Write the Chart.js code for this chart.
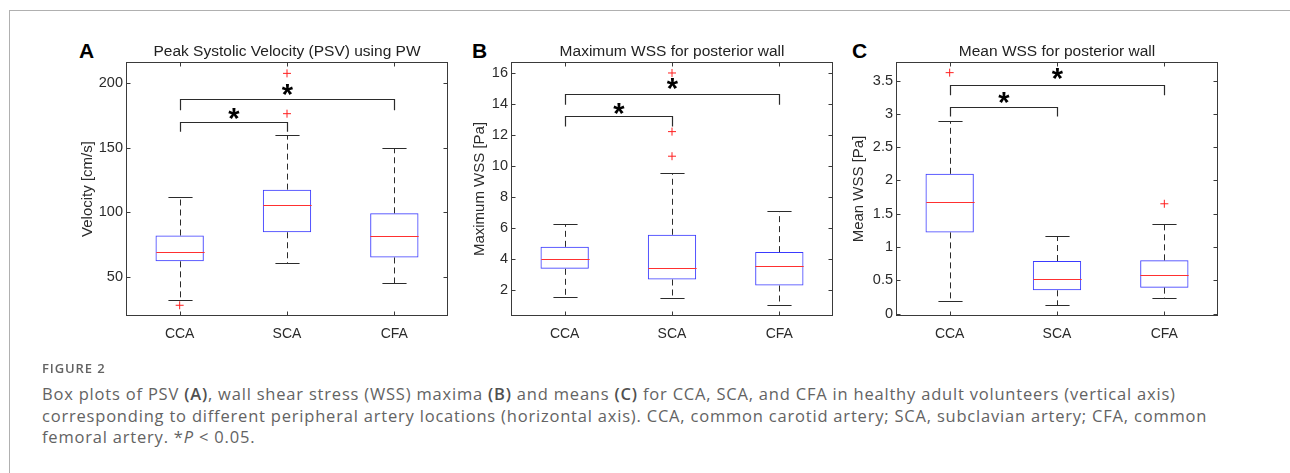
<!DOCTYPE html>
<html>
<head>
<meta charset="utf-8">
<script src="https://cdn.jsdelivr.net/npm/chart.js@4/dist/chart.umd.min.js"></script>
<style>
  html, body { margin: 0; padding: 0; background: #fff; }
  body { width: 1290px; height: 473px; position: relative; overflow: hidden; }
  .frame { position: absolute; left: 9px; top: 10px; right: -2px; bottom: -2px;
           border-top: 1.5px solid #b0b0b0; border-left: 1.5px solid #b0b0b0; }
  .panel { position: absolute; top: 30px; width: 400px; height: 330px; }
  .letter { position: absolute; top: 40px; font: bold 21px/21px "Liberation Sans", Arial, sans-serif; color: #000; }
  .caption { position: absolute; left: 42px; font-family: "Open Sans", sans-serif; color: #636363; }
  .fig { top: 359px; font-size: 13px; font-weight: 600; letter-spacing: 0.9px; }
  .text { top: 383px; font-size: 16.5px; line-height: 21.5px; letter-spacing: 0.8px; white-space: nowrap; }
  .text b { font-weight: 600; color: #505050; }
</style>
</head>
<body>
<div class="frame"></div>

<div class="letter" style="left:79px">A</div>
<div class="letter" style="left:472px">B</div>
<div class="letter" style="left:852px">C</div>

<div class="panel" style="left:60px"><canvas id="chartA"></canvas></div>
<div class="panel" style="left:445px"><canvas id="chartB"></canvas></div>
<div class="panel" style="left:830px"><canvas id="chartC"></canvas></div>

<div class="caption fig">FIGURE 2</div>
<div class="caption text">Box plots of PSV <b>(A)</b>, wall shear stress (WSS) maxima <b>(B)</b> and means <b>(C)</b> for CCA, SCA, and CFA in healthy adult volunteers (vertical axis)<br>corresponding to different peripheral artery locations (horizontal axis). CCA, common carotid artery; SCA, subclavian artery; CFA, common<br>femoral artery. *<i>P</i> &lt; 0.05.</div>

<script>
const categories = ["CCA", "SCA", "CFA"];

// A: peak systolic velocity [cm/s]
const psvLow = [31.7, 60.5, 45.1];
const psvQ1 = [62, 84.5, 65];
const psvMedian = [69, 105.6, 81.7];
const psvQ3 = [82, 117.5, 99.2];
const psvHigh = [112, 159.5, 149.7];
const psvOutliers = [{ x: "CCA", y: 28 }, { x: "SCA", y: 176.3 }, { x: "SCA", y: 207.5 }];
const psvTicks = [50, 100, 150, 200];
const psvSig = [{ from: 0, to: 1, y: 169.6, drop: 162.3, star: 176 },
                { from: 0, to: 2, y: 187.4, drop: 179, star: 194.6 }];

// B: maximum WSS [Pa]
const maxLow = [1.52, 1.48, 0.98];
const maxQ1 = [3.34, 2.65, 2.26];
const maxMedian = [3.98, 3.4, 3.51];
const maxQ3 = [4.76, 5.54, 4.42];
const maxHigh = [6.25, 9.56, 7.06];
const maxOutliers = [{ x: "SCA", y: 10.62 }, { x: "SCA", y: 12.21 }, { x: "SCA", y: 16.0 }];
const maxTicks = [2, 4, 6, 8, 10, 12, 14, 16];
const maxSig = [{ from: 0, to: 1, y: 13.19, drop: 12.54, star: 13.7 },
                { from: 0, to: 2, y: 14.64, drop: 13.95, star: 15.3 }];

// C: mean WSS [Pa]
const meanLow = [0.185, 0.125, 0.24];
const meanQ1 = [1.22, 0.35, 0.39];
const meanMedian = [1.67, 0.52, 0.58];
const meanQ3 = [2.1, 0.79, 0.8];
const meanHigh = [2.9, 1.17, 1.34];
const meanOutliers = [{ x: "CCA", y: 3.62 }, { x: "CFA", y: 1.65 }];
const meanTicks = [0, 0.5, 1, 1.5, 2, 2.5, 3, 3.5];
const meanSig = [{ from: 0, to: 1, y: 3.11, drop: 2.96, star: 3.24 },
                 { from: 0, to: 2, y: 3.44, drop: 3.28, star: 3.6 }];

const FONT = "'Liberation Sans', Arial, sans-serif";
const INK = "#2b2b2b";

// whiskers, medians, brackets and the MATLAB-style axes box
function boxExtras(stats) {
  return {
    id: "boxExtras",
    afterDatasetsDraw(chart) {
      const { ctx, chartArea: a, scales: { x, y } } = chart;
      const bars = chart.getDatasetMeta(0).data;
      ctx.save();
      ctx.lineWidth = 1;

      stats.median.forEach((m, i) => {
        const cx = Math.round(x.getPixelForValue(i)) + 0.5;
        const w = bars[i].width;
        const pq1 = y.getPixelForValue(stats.q1[i]);
        const pq3 = y.getPixelForValue(stats.q3[i]);
        const plo = Math.round(y.getPixelForValue(stats.low[i])) + 0.5;
        const phi = Math.round(y.getPixelForValue(stats.high[i])) + 0.5;

        ctx.strokeStyle = INK;
        ctx.setLineDash([6, 4]);
        ctx.beginPath();
        ctx.moveTo(cx, pq3); ctx.lineTo(cx, phi);
        ctx.moveTo(cx, pq1); ctx.lineTo(cx, plo);
        ctx.stroke();
        ctx.setLineDash([]);
        ctx.beginPath();
        ctx.moveTo(cx - w / 4, phi); ctx.lineTo(cx + w / 4, phi);
        ctx.moveTo(cx - w / 4, plo); ctx.lineTo(cx + w / 4, plo);
        ctx.stroke();

        const pm = Math.round(y.getPixelForValue(m)) + 0.5;
        ctx.strokeStyle = "#ff3030";
        ctx.beginPath();
        ctx.moveTo(cx - w / 2, pm); ctx.lineTo(cx + w / 2, pm);
        ctx.stroke();
      });

      stats.sig.forEach(s => {
        const x1 = Math.round(x.getPixelForValue(s.from)) + 0.5;
        const x2 = Math.round(x.getPixelForValue(s.to)) + 0.5;
        const py = Math.round(y.getPixelForValue(s.y)) + 0.5;
        const pd = y.getPixelForValue(s.drop);
        ctx.strokeStyle = INK;
        ctx.lineWidth = 1.2;
        ctx.beginPath();
        ctx.moveTo(x1, pd); ctx.lineTo(x1, py); ctx.lineTo(x2, py); ctx.lineTo(x2, pd);
        ctx.stroke();

        ctx.fillStyle = "#000";
        ctx.font = "bold 29px " + FONT;
        ctx.textAlign = "center";
        ctx.textBaseline = "alphabetic";
        const mt = ctx.measureText("*");
        const sy = y.getPixelForValue(s.star) + (mt.actualBoundingBoxAscent - mt.actualBoundingBoxDescent) / 2;
        ctx.fillText("*", (x1 + x2) / 2, sy);
      });

      // frame and inward ticks
      const L = a.left + 0.5, R = a.right - 0.5, T = a.top + 0.5, B = a.bottom - 0.5;
      ctx.strokeStyle = "#3a3a3a";
      ctx.lineWidth = 1;
      ctx.strokeRect(L, T, R - L, B - T);
      ctx.beginPath();
      y.ticks.forEach(t => {
        const py = Math.round(y.getPixelForValue(t.value)) + 0.5;
        ctx.moveTo(L, py); ctx.lineTo(L + 4, py);
        ctx.moveTo(R, py); ctx.lineTo(R - 4, py);
      });
      categories.forEach((c, i) => {
        const px = Math.round(x.getPixelForValue(i)) + 0.5;
        ctx.moveTo(px, T); ctx.lineTo(px, T + 4);
        ctx.moveTo(px, B); ctx.lineTo(px, B - 4);
      });
      ctx.stroke();
      ctx.restore();
    }
  };
}

function renderBoxChart(canvasId, cfg) {
  const ctx = document.getElementById(canvasId).getContext("2d");
  return new Chart(ctx, {
    type: "bar",
    data: {
      labels: categories,
      datasets: [
        {
          label: "IQR",
          data: cfg.q1.map((q, i) => [q, cfg.q3[i]]),
          backgroundColor: "rgba(0,0,0,0)",
          borderColor: "#3a3aff",
          borderWidth: 1,
          borderSkipped: false,
          barPercentage: 0.45,
          categoryPercentage: 1,
        },
        {
          type: "line",
          label: "Outliers",
          data: cfg.outliers,
          showLine: false,
          pointStyle: "cross",
          pointRadius: 4,
          borderColor: "#ff2020",
          borderWidth: 1,
        },
      ],
    },
    options: {
      responsive: false,
      animation: false,
      events: [],
      layout: { padding: { left: cfg.labelPad, right: 12, top: 0, bottom: 0 } },
      plugins: {
        legend: { display: false },
        tooltip: { enabled: false },
        title: {
          display: true,
          fullSize: false,
          text: cfg.title,
          color: "#222",
          font: { family: FONT, size: 15.5, weight: "normal" },
          padding: { top: 12, bottom: 1.4 },
        },
      },
      scales: {
        x: {
          offset: true,
          grid: { display: false, drawTicks: false },
          border: { display: false },
          ticks: { color: INK, font: { family: FONT, size: 14 }, padding: 10 },
          afterFit: s => { s.height = 44; },
        },
        y: {
          min: cfg.min,
          max: cfg.max,
          grid: { display: false, drawTicks: false },
          border: { display: false },
          ticks: {
            color: INK,
            font: { family: FONT, size: 14.5 },
            padding: 3,
            callback: v => String(v),
          },
          afterBuildTicks: s => { s.ticks = cfg.ticks.map(v => ({ value: v })); },
          afterFit: s => { s.width = 66 - cfg.labelPad; },
          title: {
            display: true,
            text: cfg.yLabel,
            color: INK,
            font: { family: FONT, size: 15 },
            padding: { top: 4, bottom: 0 },
          },
        },
      },
    },
    plugins: [boxExtras(cfg)],
  });
}

function sizeCanvas(id) {
  const c = document.getElementById(id);
  c.width = 400; c.height = 330;
  c.style.width = "400px"; c.style.height = "330px";
}

document.addEventListener("DOMContentLoaded", () => {
  ["chartA", "chartB", "chartC"].forEach(sizeCanvas);

  renderBoxChart("chartA", {
    title: "Peak Systolic Velocity (PSV) using PW", yLabel: "Velocity [cm/s]",
    min: 19.7, max: 216.3, ticks: psvTicks, labelPad: 15,
    low: psvLow, q1: psvQ1, median: psvMedian, q3: psvQ3, high: psvHigh,
    outliers: psvOutliers, sig: psvSig,
  });
  renderBoxChart("chartB", {
    title: "Maximum WSS for posterior wall", yLabel: "Maximum WSS [Pa]",
    min: 0.29, max: 16.71, ticks: maxTicks, labelPad: 22,
    low: maxLow, q1: maxQ1, median: maxMedian, q3: maxQ3, high: maxHigh,
    outliers: maxOutliers, sig: maxSig,
  });
  renderBoxChart("chartC", {
    title: "Mean WSS for posterior wall", yLabel: "Mean WSS [Pa]",
    min: -0.036, max: 3.78, ticks: meanTicks, labelPad: 16,
    low: meanLow, q1: meanQ1, median: meanMedian, q3: meanQ3, high: meanHigh,
    outliers: meanOutliers, sig: meanSig,
  });
});
</script>
</body>
</html>
